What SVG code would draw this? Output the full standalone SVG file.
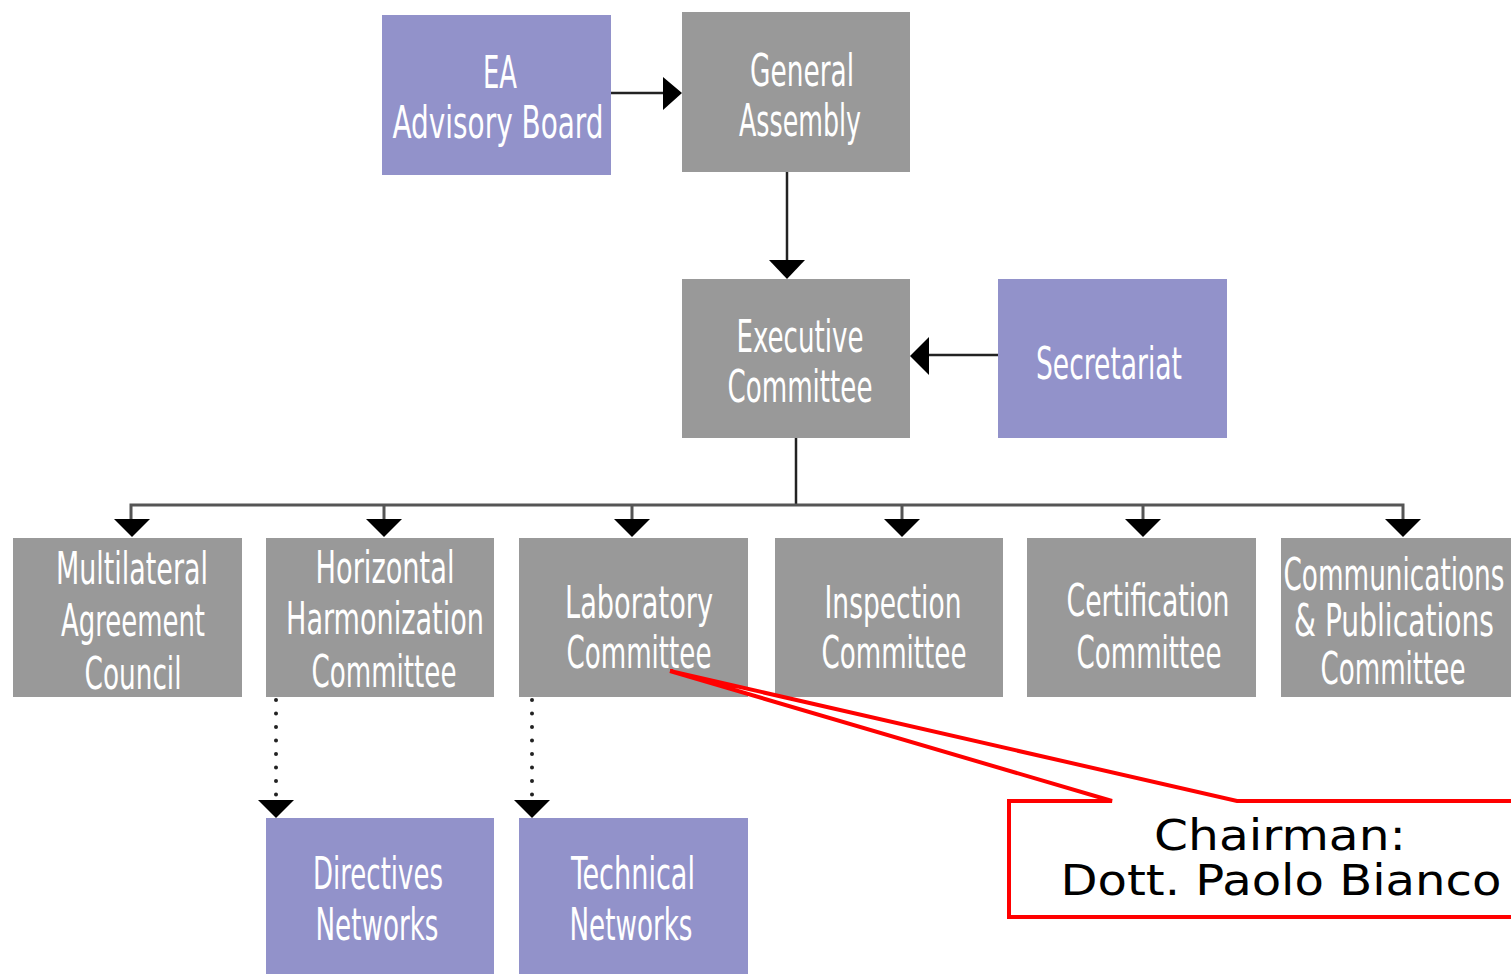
<svg xmlns="http://www.w3.org/2000/svg" width="1511" height="974" viewBox="0 0 1511 974">
<defs>
<style>
.g{fill:#999999}
.p{fill:#9292CA}
.t{fill:#ffffff;font-family:"DejaVu Sans","Liberation Sans",sans-serif;font-stretch:condensed;font-size:44px;text-anchor:middle}
.ln{stroke:#222;stroke-width:2.5;fill:none}
.bus{stroke:#555;stroke-width:3;fill:none}
.dot{stroke:#222;stroke-width:4;stroke-linecap:round;stroke-dasharray:0 13.5;fill:none}
.ah{fill:#000}
.ct{fill:#000;font-family:"DejaVu Sans","Liberation Sans",sans-serif;font-size:42px;text-anchor:middle}
</style>
</defs>
<rect width="1511" height="974" fill="#ffffff"/>
<g id="connectors">
<line class="ln" x1="611" y1="93" x2="665" y2="93"/>
<polygon class="ah" points="663,77 682,93 663,110"/>
<line class="ln" x1="787" y1="172" x2="787" y2="262"/>
<polygon class="ah" points="769,260 805,260 787,279"/>
<line class="ln" x1="998" y1="355" x2="927" y2="355"/>
<polygon class="ah" points="929,337 910,356 929,375"/>
<line class="ln" x1="796" y1="438" x2="796" y2="505"/>
<polyline class="bus" points="131,520 131,505 1403,505 1403,520"/>
<line class="bus" x1="384" y1="505" x2="384" y2="520"/>
<line class="bus" x1="632" y1="505" x2="632" y2="520"/>
<line class="bus" x1="902" y1="505" x2="902" y2="520"/>
<line class="bus" x1="1143" y1="505" x2="1143" y2="520"/>
<polygon class="ah" points="114,519 150,519 132,537"/>
<polygon class="ah" points="366,519 402,519 384,537"/>
<polygon class="ah" points="614,519 650,519 632,537"/>
<polygon class="ah" points="884,519 920,519 902,537"/>
<polygon class="ah" points="1125,519 1161,519 1143,537"/>
<polygon class="ah" points="1385,519 1421,519 1403,537"/>
<line class="dot" x1="276" y1="700" x2="276" y2="795"/>
<polygon class="ah" points="258,800 294,800 276,818"/>
<line class="dot" x1="532" y1="700" x2="532" y2="795"/>
<polygon class="ah" points="514,800 550,800 532,818"/>
</g>
<g id="ea-advisory-board">
<rect class="p" x="382" y="15" width="229" height="160"/>
<text class="t" x="500" y="88" textLength="34" lengthAdjust="spacingAndGlyphs">EA</text>
<text class="t" x="498" y="138" textLength="211" lengthAdjust="spacingAndGlyphs">Advisory Board</text>
</g>
<g id="general-assembly">
<rect class="g" x="682" y="12" width="228" height="160"/>
<text class="t" x="802" y="86" textLength="104" lengthAdjust="spacingAndGlyphs">General</text>
<text class="t" x="800" y="136" textLength="122" lengthAdjust="spacingAndGlyphs">Assembly</text>
</g>
<g id="executive-committee">
<rect class="g" x="682" y="279" width="228" height="159"/>
<text class="t" x="800" y="352" textLength="127" lengthAdjust="spacingAndGlyphs">Executive</text>
<text class="t" x="800" y="402" textLength="145" lengthAdjust="spacingAndGlyphs">Committee</text>
</g>
<g id="secretariat">
<rect class="p" x="998" y="279" width="229" height="159"/>
<text class="t" x="1109" y="379" textLength="146" lengthAdjust="spacingAndGlyphs">Secretariat</text>
</g>
<g id="multilateral-agreement-council">
<rect class="g" x="13" y="538" width="229" height="159"/>
<text class="t" x="132" y="584" textLength="152" lengthAdjust="spacingAndGlyphs">Multilateral</text>
<text class="t" x="133" y="636" textLength="144" lengthAdjust="spacingAndGlyphs">Agreement</text>
<text class="t" x="133" y="689" textLength="97" lengthAdjust="spacingAndGlyphs">Council</text>
</g>
<g id="horizontal-harmonization-committee">
<rect class="g" x="266" y="538" width="228" height="159"/>
<text class="t" x="385" y="583" textLength="139" lengthAdjust="spacingAndGlyphs">Horizontal</text>
<text class="t" x="385" y="634" textLength="198" lengthAdjust="spacingAndGlyphs">Harmonization</text>
<text class="t" x="384" y="687" textLength="145" lengthAdjust="spacingAndGlyphs">Committee</text>
</g>
<g id="laboratory-committee">
<rect class="g" x="519" y="538" width="229" height="159"/>
<text class="t" x="639" y="618" textLength="148" lengthAdjust="spacingAndGlyphs">Laboratory</text>
<text class="t" x="639" y="668" textLength="145" lengthAdjust="spacingAndGlyphs">Committee</text>
</g>
<g id="inspection-committee">
<rect class="g" x="775" y="538" width="228" height="159"/>
<text class="t" x="893" y="618" textLength="137" lengthAdjust="spacingAndGlyphs">Inspection</text>
<text class="t" x="894" y="668" textLength="145" lengthAdjust="spacingAndGlyphs">Committee</text>
</g>
<g id="certification-committee">
<rect class="g" x="1027" y="538" width="229" height="159"/>
<text class="t" x="1148" y="616" textLength="163" lengthAdjust="spacingAndGlyphs">Certification</text>
<text class="t" x="1149" y="668" textLength="145" lengthAdjust="spacingAndGlyphs">Committee</text>
</g>
<g id="communications-publications-committee">
<rect class="g" x="1281" y="538" width="230" height="159"/>
<text class="t" x="1394" y="590" textLength="221" lengthAdjust="spacingAndGlyphs">Communications</text>
<text class="t" x="1394" y="636" textLength="200" lengthAdjust="spacingAndGlyphs">&amp; Publications</text>
<text class="t" x="1393" y="684" textLength="145" lengthAdjust="spacingAndGlyphs">Committee</text>
</g>
<g id="directives-networks">
<rect class="p" x="266" y="818" width="228" height="160"/>
<text class="t" x="378" y="889" textLength="130" lengthAdjust="spacingAndGlyphs">Directives</text>
<text class="t" x="377" y="940" textLength="123" lengthAdjust="spacingAndGlyphs">Networks</text>
</g>
<g id="technical-networks">
<rect class="p" x="519" y="818" width="229" height="160"/>
<text class="t" x="633" y="889" textLength="124" lengthAdjust="spacingAndGlyphs">Technical</text>
<text class="t" x="631" y="940" textLength="123" lengthAdjust="spacingAndGlyphs">Networks</text>
</g>
<g id="chairman-callout">
<path d="M1009,801 L1112,801 L670,671 L1237,801 L1515,801 L1515,917 L1009,917 Z" fill="#ffffff" stroke="#ff0000" stroke-width="4" stroke-linejoin="miter"/>
<text class="ct" x="1280" y="850" textLength="252" lengthAdjust="spacingAndGlyphs">Chairman:</text>
<text class="ct" x="1281" y="895" textLength="441" lengthAdjust="spacingAndGlyphs">Dott. Paolo Bianco</text>
</g>
</svg>
